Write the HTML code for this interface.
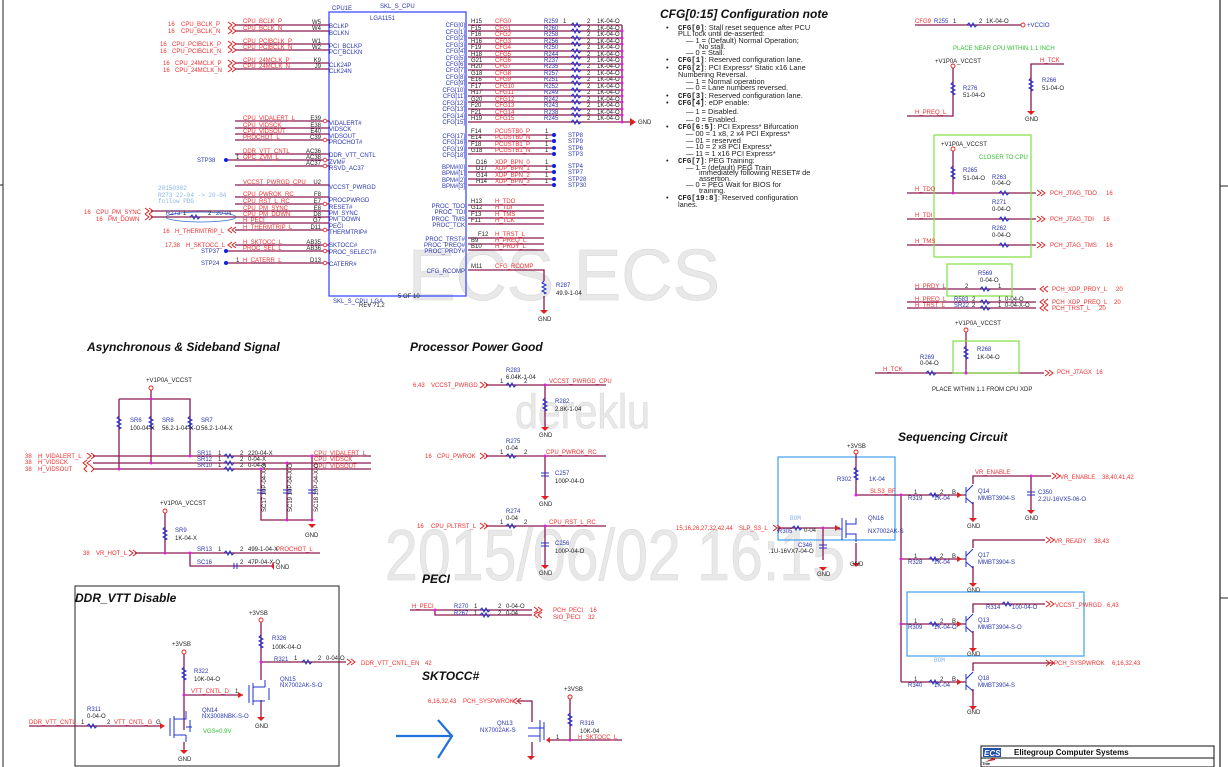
<!DOCTYPE html>
<html><head><meta charset="utf-8"><style>
html,body{margin:0;padding:0;background:#fff;}
svg{display:block;font-family:"Liberation Sans",sans-serif;}
.r{fill:#f03030;font-size:6px}
.b{fill:#2a36b0;font-size:6px}
.k{fill:#222;font-size:6px}
.g{fill:#30c030;font-size:6px}
.lb{fill:#8ab4e8;font-size:6px;font-family:"Liberation Mono",monospace}
.t{font-size:12px;font-weight:bold;font-style:italic;fill:#111}
.n{font-size:7.4px;fill:#222}
.nb{font-size:7.4px;fill:#222;font-weight:bold;font-family:"Liberation Mono",monospace}
.w{stroke:#8a1a50;stroke-width:1.3;fill:none}
.wp{stroke:#b04080;stroke-width:1;fill:none}
.z{stroke:#2030d0;stroke-width:1;fill:none}
.rd{stroke:#e02020;stroke-width:1;fill:none}
.wm{fill:#e8e8e8;stroke:#d8d8d8;stroke-width:0.6;font-family:"Liberation Sans",sans-serif}
</style></head><body>
<svg width="1228" height="767" viewBox="0 0 1228 767" xmlns="http://www.w3.org/2000/svg">
<!-- watermarks -->
<text class="wm" x="408" y="300" font-size="72" textLength="312" lengthAdjust="spacingAndGlyphs">ECS ECS</text>
<text class="wm" x="515" y="428" font-size="48" textLength="135" lengthAdjust="spacingAndGlyphs">dereklu</text>
<text class="wm" x="385" y="580" font-size="72" textLength="460" lengthAdjust="spacingAndGlyphs">2015/06/02 16:15</text>

<!-- frame -->
<line x1="3" y1="0" x2="3" y2="767" stroke="#222" stroke-width="1"/>
<line x1="0" y1="185" x2="3" y2="185" stroke="#222"/>
<line x1="1220" y1="0" x2="1220" y2="767" stroke="#222" stroke-width="1.2"/>
<line x1="1220" y1="186" x2="1228" y2="186" stroke="#222"/>
<line x1="1220" y1="598" x2="1228" y2="598" stroke="#222"/>

<!-- CPU box -->
<rect x="329" y="12" width="137" height="284" fill="none" stroke="#3040ff" stroke-width="1.2"/>
<text class="b" x="332" y="10">CPU1E</text>
<text class="b" x="380" y="8" font-size="5">SKL_S_CPU</text>
<text class="b" x="370" y="20" font-size="5">LGA1151</text>
<text class="k" x="398" y="298">5 OF 10</text>
<text class="b" x="333" y="303">SKL_S_CPU_LGA</text>
<text class="k" x="359" y="307">REV ?1.2</text>

<!-- left pins -->
<g class="w">
<path d="M235 25H329M235 31H329M235 44H329M235 50H329M235 63H329M235 69H329"/>
<path d="M235 121H329M235 128H329M235 134H329M235 140H329M235 154H329M226 160H329M235 166H329"/>
<path d="M235 185H329M235 197H329M235 204H329M151 211H329M151 217H329M235 223H329M235 230H329M235 245H329M226 251H329M226 263H329"/>
</g>
<g class="rd">
<path d="M228 22l4 3-4 3M232 22l4 3-4 3M228 28l4 3-4 3M232 28l4 3-4 3"/>
<path d="M228 41l4 3-4 3M232 41l4 3-4 3M228 47l4 3-4 3M232 47l4 3-4 3"/>
<path d="M228 60l4 3-4 3M232 60l4 3-4 3M228 66l4 3-4 3M232 66l4 3-4 3"/>
<path d="M145 208l4 3-4 3M149 208l4 3-4 3M145 214l4 3-4 3M149 214l4 3-4 3"/>
<path d="M236 227l-4 3 4 3M232 227l-4 3 4 3M236 242l-4 3 4 3M232 242l-4 3 4 3"/>
</g>
<g fill="#fff" stroke="#e02020" stroke-width="0.8">
<circle cx="325" cy="121" r="1.8"/><circle cx="325" cy="140" r="1.8"/><circle cx="325" cy="160" r="1.8"/><circle cx="325" cy="166" r="1.8"/><circle cx="325" cy="204" r="1.8"/><circle cx="325" cy="230" r="1.8"/><circle cx="325" cy="245" r="1.8"/><circle cx="325" cy="251" r="1.8"/><circle cx="325" cy="263" r="1.8"/>
</g>
<g fill="#1020e0"><circle cx="226" cy="160" r="2"/><circle cx="226" cy="251" r="2"/><circle cx="226" cy="263" r="2"/></g>
<g class="r">
<text x="168" y="26">16</text><text x="181" y="26">CPU_BCLK_P</text>
<text x="168" y="33">16</text><text x="181" y="33">CPU_BCLK_N</text>
<text x="160" y="46">16</text><text x="172" y="46">CPU_PCIBCLK_P</text>
<text x="160" y="53">16</text><text x="172" y="53">CPU_PCIBCLK_N</text>
<text x="163" y="65">16</text><text x="175" y="65">CPU_24MCLK_P</text>
<text x="163" y="72">16</text><text x="175" y="72">CPU_24MCLK_N</text>
<text x="243" y="23">CPU_BCLK_P</text><text x="243" y="30">CPU_BCLK_N</text>
<text x="243" y="43">CPU_PCIBCLK_P</text><text x="243" y="49">CPU_PCIBCLK_N</text>
<text x="243" y="62">CPU_24MCLK_P</text><text x="243" y="68">CPU_24MCLK_N</text>
<text x="243" y="120">CPU_VIDALERT_L</text><text x="243" y="127">CPU_VIDSCK</text>
<text x="243" y="133">CPU_VIDSOUT</text><text x="243" y="139">PROCHOT_L</text>
<text x="243" y="153">DDR_VTT_CNTL</text><text x="243" y="159">OPC_ZVM_L</text>
<text x="243" y="184">VCCST_PWRGD_CPU</text><text x="243" y="196">CPU_PWROK_RC</text>
<text x="243" y="203">CPU_RST_L_RC</text><text x="243" y="210">CPU_PM_SYNC</text>
<text x="243" y="216">CPU_PM_DOWN</text><text x="243" y="222">H_PECI</text>
<text x="243" y="229">H_THERMTRIP_L</text><text x="243" y="244">H_SKTOCC_L</text>
<text x="243" y="250">PROC_SEL_L</text><text x="243" y="262">H_CATERR_L</text>
<text x="84" y="214">16</text><text x="96" y="214">CPU_PM_SYNC</text>
<text x="96" y="221">16</text><text x="108" y="221">PM_DOWN</text>
<text x="163" y="233">16</text><text x="175" y="233">H_THERMTRIP_L</text>
<text x="165" y="247">17,38</text><text x="186" y="247">H_SKTOCC_L</text>
</g>
<g class="k" text-anchor="end">
<text x="321" y="24">W5</text><text x="321" y="30">W4</text><text x="321" y="43">W1</text><text x="321" y="49">W2</text><text x="321" y="62">K9</text><text x="321" y="68">J9</text>
<text x="321" y="120">E39</text><text x="321" y="127">E38</text><text x="321" y="133">E40</text><text x="321" y="139">C39</text>
<text x="321" y="153">AC36</text><text x="321" y="159">AC38</text><text x="321" y="165">AC37</text>
<text x="321" y="184">U2</text><text x="321" y="196">F8</text><text x="321" y="203">E7</text><text x="321" y="210">E8</text><text x="321" y="216">D8</text><text x="321" y="222">G7</text><text x="321" y="229">D11</text>
<text x="321" y="244">AB35</text><text x="321" y="250">AB36</text><text x="321" y="262">D13</text>
</g>
<g class="b">
<text x="329" y="28">BCLKP</text><text x="329" y="35">BCLKN</text><text x="329" y="48">PCI_BCLKP</text><text x="329" y="54">PCI_BCLKN</text>
<text x="329" y="67">CLK24P</text><text x="329" y="73">CLK24N</text>
<text x="329" y="125">VIDALERT#</text><text x="329" y="131">VIDSCK</text><text x="329" y="138">VIDSOUT</text><text x="329" y="144">PROCHOT#</text>
<text x="329" y="157">DDR_VTT_CNTL</text><text x="329" y="164">ZVM#</text><text x="329" y="170">RSVD_AC37</text>
<text x="329" y="189">VCCST_PWRGD</text><text x="329" y="202">PROCPWRGD</text><text x="329" y="209">RESET#</text><text x="329" y="215">PM_SYNC</text>
<text x="329" y="221">PM_DOWN</text><text x="329" y="228">PECI</text><text x="329" y="234">THERMTRIP#</text>
<text x="329" y="247">SKTOCC#</text><text x="329" y="254">PROC_SELECT#</text><text x="329" y="266">CATERR#</text>
<text x="197" y="162">STP38</text><text x="201" y="253">STP37</text><text x="201" y="265">STP24</text>
</g>
<text class="k" x="236" y="159">1</text><text class="k" x="236" y="262">1</text>
<g class="lb"><text x="158" y="190">20150302</text><text x="158" y="197">R273 22-04 -&gt; 20-04</text><text x="158" y="203">follow PDG</text></g>
<ellipse cx="201" cy="217" rx="35" ry="5" fill="none" stroke="#3070d0" stroke-width="0.8"/>
<text class="b" x="166" y="215">R273</text><text class="k" x="183" y="215">1</text><text class="k" x="208" y="215">2</text><text class="b" x="216" y="215">20-04</text>
<path class="z" d="M190 217l2-2 2 4 2-4 2 4 2-2"/>

<!-- right CFG -->
<g class="w">
<path d="M468 25H622M468 31H622M468 38H622M468 44H622M468 51H622M468 57H622M468 64H622M468 70H622M468 77H622M468 83H622M468 90H622M468 96H622M468 102H622M468 109H622M468 115H622M468 122H622"/>
<path d="M622 25V122H630"/>
<path d="M468 135H554M468 141H554M468 148H554M468 154H554M468 166H554M468 172H554M468 179H554M468 185H554"/>
<path d="M468 205H544M468 211H544M468 218H544M468 224H544M468 238H544M468 244H544M468 250H544"/>
<path d="M468 270H544V281M544 296V310"/>
</g>
<g class="z">
<path d="M571 25l2-2 2 4 2-4 2 4 2-2M571 31l2-2 2 4 2-4 2 4 2-2M571 38l2-2 2 4 2-4 2 4 2-2M571 44l2-2 2 4 2-4 2 4 2-2M571 51l2-2 2 4 2-4 2 4 2-2M571 57l2-2 2 4 2-4 2 4 2-2M571 64l2-2 2 4 2-4 2 4 2-2M571 70l2-2 2 4 2-4 2 4 2-2M571 77l2-2 2 4 2-4 2 4 2-2M571 83l2-2 2 4 2-4 2 4 2-2M571 90l2-2 2 4 2-4 2 4 2-2M571 96l2-2 2 4 2-4 2 4 2-2M571 102l2-2 2 4 2-4 2 4 2-2M571 109l2-2 2 4 2-4 2 4 2-2M571 115l2-2 2 4 2-4 2 4 2-2M571 122l2-2 2 4 2-4 2 4 2-2"/>
<path d="M544 281l-2 2 4 2-4 2 4 2-4 2 4 2-2 1"/>
</g>
<g fill="#e020e0"><circle cx="622" cy="31" r="1.5"/><circle cx="622" cy="38" r="1.5"/><circle cx="622" cy="44" r="1.5"/><circle cx="622" cy="51" r="1.5"/><circle cx="622" cy="57" r="1.5"/><circle cx="622" cy="64" r="1.5"/><circle cx="622" cy="70" r="1.5"/><circle cx="622" cy="77" r="1.5"/><circle cx="622" cy="83" r="1.5"/><circle cx="622" cy="90" r="1.5"/><circle cx="622" cy="96" r="1.5"/><circle cx="622" cy="102" r="1.5"/><circle cx="622" cy="109" r="1.5"/><circle cx="622" cy="115" r="1.5"/><circle cx="622" cy="122" r="1.5"/></g>
<g fill="#1020e0"><circle cx="554" cy="135" r="2"/><circle cx="554" cy="141" r="2"/><circle cx="554" cy="148" r="2"/><circle cx="554" cy="154" r="2"/><circle cx="554" cy="166" r="2"/><circle cx="554" cy="172" r="2"/><circle cx="554" cy="179" r="2"/><circle cx="554" cy="185" r="2"/></g>
<path d="M630 118v8l6-4z M540 310h8l-4 4z" fill="#e02020"/>
<text class="k" x="638" y="124">GND</text><text class="k" x="538" y="321">GND</text>
<text class="b" x="556" y="287">R287</text><text class="k" x="556" y="295">49.9-1-04</text>
<g class="b" text-anchor="end">
<text x="465" y="27">CFG[0]</text><text x="465" y="34">CFG[1]</text><text x="465" y="40">CFG[2]</text><text x="465" y="47">CFG[3]</text><text x="465" y="53">CFG[4]</text><text x="465" y="60">CFG[5]</text><text x="465" y="66">CFG[6]</text><text x="465" y="72">CFG[7]</text><text x="465" y="79">CFG[8]</text><text x="465" y="85">CFG[9]</text><text x="465" y="92">CFG[10]</text><text x="465" y="98">CFG[11]</text><text x="465" y="105">CFG[12]</text><text x="465" y="111">CFG[13]</text><text x="465" y="118">CFG[14]</text><text x="465" y="124">CFG[15]</text>
<text x="465" y="138">CFG[17]</text><text x="465" y="144">CFG[16]</text><text x="465" y="151">CFG[19]</text><text x="465" y="157">CFG[18]</text>
<text x="465" y="169">BPM#[0]</text><text x="465" y="175">BPM#[1]</text><text x="465" y="182">BPM#[2]</text><text x="465" y="188">BPM#[3]</text>
<text x="465" y="208">PROC_TDO</text><text x="465" y="214">PROC_TDI</text><text x="465" y="221">PROC_TMS</text><text x="465" y="227">PROC_TCK</text>
<text x="465" y="241">PROC_TRST#</text><text x="465" y="247">PROC_PREQ#</text><text x="465" y="253">PROC_PRDY#</text>
<text x="465" y="273">CFG_RCOMP</text>
</g>
<g class="k">
<text x="471" y="23">H15</text><text x="471" y="30">F15</text><text x="471" y="36">F16</text><text x="471" y="43">H16</text><text x="471" y="49">F19</text><text x="471" y="56">H18</text><text x="471" y="62">G21</text><text x="471" y="68">H20</text><text x="471" y="75">G18</text><text x="471" y="81">E16</text><text x="471" y="88">F17</text><text x="471" y="94">H17</text><text x="471" y="101">G20</text><text x="471" y="107">F20</text><text x="471" y="114">F21</text><text x="471" y="120">H19</text>
<text x="471" y="133">F14</text><text x="471" y="139">E14</text><text x="471" y="146">F18</text><text x="471" y="152">G18</text>
<text x="476" y="164">D16</text><text x="476" y="170">D17</text><text x="476" y="177">G14</text><text x="476" y="183">H14</text>
<text x="471" y="203">H13</text><text x="471" y="209">G12</text><text x="471" y="216">F13</text><text x="471" y="222">F11</text>
<text x="478" y="236">F12</text><text x="471" y="242">B9</text><text x="471" y="248">B10</text><text x="471" y="268">M11</text>
</g>
<g class="r">
<text x="495" y="23">CFG0</text><text x="495" y="30">CFG1</text><text x="495" y="36">CFG2</text><text x="495" y="43">CFG3</text><text x="495" y="49">CFG4</text><text x="495" y="56">CFG5</text><text x="495" y="62">CFG6</text><text x="495" y="68">CFG7</text><text x="495" y="75">CFG8</text><text x="495" y="81">CFG9</text><text x="495" y="88">CFG10</text><text x="495" y="94">CFG11</text><text x="495" y="101">CFG12</text><text x="495" y="107">CFG13</text><text x="495" y="114">CFG14</text><text x="495" y="120">CFG15</text>
<text x="495" y="133">PCUSTB0_P</text><text x="495" y="139">PCUSTB0_N</text><text x="495" y="146">PCUSTB1_P</text><text x="495" y="152">PCUSTB1_N</text>
<text x="495" y="164">XDP_BPN_0</text><text x="495" y="170">XDP_BPN_1</text><text x="495" y="177">XDP_BPN_2</text><text x="495" y="183">XDP_BPN_3</text>
<text x="495" y="203">H_TDO</text><text x="495" y="209">H_TDI</text><text x="495" y="216">H_TMS</text><text x="495" y="222">H_TCK</text>
<text x="495" y="236">H_TRST_L</text><text x="495" y="242">H_PREQ_L</text><text x="495" y="248">H_PRDY_L</text><text x="495" y="268">CFG_RCOMP</text>
</g>
<g class="b">
<text x="544" y="23">R259</text><text x="544" y="30">R260</text><text x="544" y="36">R258</text><text x="544" y="43">R256</text><text x="544" y="49">R250</text><text x="544" y="56">R244</text><text x="544" y="62">R237</text><text x="544" y="68">R235</text><text x="544" y="75">R257</text><text x="544" y="81">R251</text><text x="544" y="88">R252</text><text x="544" y="94">R249</text><text x="544" y="101">R242</text><text x="544" y="107">R243</text><text x="544" y="114">R238</text><text x="544" y="120">R245</text>
<text x="568" y="137">STP8</text><text x="568" y="143">STP9</text><text x="568" y="150">STP6</text><text x="568" y="156">STP3</text>
<text x="568" y="168">STP4</text><text x="568" y="174">STP7</text><text x="568" y="181">STP28</text><text x="568" y="187">STP30</text>
</g>
<g class="k">
<text x="563" y="23">1</text><text x="587" y="23">2</text><text x="597" y="23">1K-04-O</text>
<text x="587" y="30">2</text><text x="597" y="30">1K-04-O</text><text x="587" y="36">2</text><text x="597" y="36">1K-04-O</text>
<text x="587" y="43">2</text><text x="597" y="43">1K-04-O</text><text x="587" y="49">2</text><text x="597" y="49">1K-04-O</text>
<text x="587" y="56">2</text><text x="597" y="56">1K-04-O</text><text x="587" y="62">2</text><text x="597" y="62">1K-04-O</text>
<text x="587" y="68">2</text><text x="597" y="68">1K-04-O</text><text x="587" y="75">2</text><text x="597" y="75">1K-04-O</text>
<text x="587" y="81">2</text><text x="597" y="81">1K-04-O</text><text x="587" y="88">2</text><text x="597" y="88">1K-04-O</text>
<text x="587" y="94">2</text><text x="597" y="94">1K-04-O</text><text x="587" y="101">2</text><text x="597" y="101">1K-04-O</text>
<text x="587" y="107">2</text><text x="597" y="107">1K-04-O</text><text x="587" y="114">2</text><text x="597" y="114">1K-04-O</text>
<text x="587" y="120">2</text><text x="597" y="120">1K-04-O</text>
<text x="545" y="133">1</text><text x="545" y="139">1</text><text x="545" y="146">1</text><text x="545" y="152">1</text>
<text x="545" y="164">1</text><text x="545" y="170">1</text><text x="545" y="177">1</text><text x="545" y="183">1</text>
</g>

<!-- Config note -->
<text class="t" x="660" y="18">CFG[0:15]  Configuration note</text>
<g class="n">
<text x="666" y="30">•</text><text x="678" y="30"><tspan class="nb">CFG[0]</tspan>: Stall reset sequence after PCU</text>
<text x="678" y="36">PLL lock until de-asserted:</text>
<text x="686" y="43">—  1 = (Default) Normal Operation;</text>
<text x="699" y="49">No stall.</text>
<text x="686" y="55">—  0 = Stall.</text>
<text x="666" y="62">•</text><text x="678" y="62"><tspan class="nb">CFG[1]</tspan>: Reserved configuration lane.</text>
<text x="666" y="70">•</text><text x="678" y="70"><tspan class="nb">CFG[2]</tspan>: PCI Express* Static x16 Lane</text>
<text x="678" y="77">Numbering Reversal.</text>
<text x="686" y="84">—  1 = Normal operation</text>
<text x="686" y="90">—  0 = Lane numbers reversed.</text>
<text x="666" y="98">•</text><text x="678" y="98"><tspan class="nb">CFG[3]</tspan>: Reserved configuration lane.</text>
<text x="666" y="105">•</text><text x="678" y="105"><tspan class="nb">CFG[4]</tspan>: eDP enable:</text>
<text x="686" y="114">—  1 = Disabled.</text>
<text x="686" y="122">—  0 = Enabled.</text>
<text x="666" y="129">•</text><text x="678" y="129"><tspan class="nb">CFG[6:5]</tspan>: PCI Express* Bifurcation</text>
<text x="686" y="136">—  00 = 1 x8, 2 x4 PCI Express*</text>
<text x="686" y="143">—  01 = reserved</text>
<text x="686" y="149">—  10 = 2 x8 PCI Express*</text>
<text x="686" y="156">—  11 = 1 x16 PCI Express*</text>
<text x="666" y="163">•</text><text x="678" y="163"><tspan class="nb">CFG[7]</tspan>: PEG Training:</text>
<text x="686" y="170">—  1 = (default) PEG Train</text>
<text x="699" y="175">immediately following RESET# de</text>
<text x="699" y="181">assertion.</text>
<text x="686" y="187">—  0 = PEG Wait for BIOS for</text>
<text x="699" y="193">training.</text>
<text x="666" y="200">•</text><text x="678" y="200"><tspan class="nb">CFG[19:8]</tspan>: Reserved configuration</text>
<text x="678" y="207">lanes.</text>
</g>

<!-- right top JTAG -->
<g class="w">
<path d="M915 25H1021"/>
<path d="M953 67V116H907"/>
<path d="M1064 64H1031V111"/>
<path d="M953 150V193M907 193H1036M907 219H1036M907 245H1036"/>
<path d="M915 289H1036M907 302H1036M907 308H1036"/>
<path d="M966 331V373M875 373H1044"/>
</g>
<rect x="934" y="135" width="97" height="122" fill="none" stroke="#80e040" stroke-width="1.2"/>
<rect x="947" y="264" width="65" height="32" fill="none" stroke="#80e040" stroke-width="1.2"/>
<rect x="953" y="341" width="66" height="32" fill="none" stroke="#80e040" stroke-width="1.2"/>
<g class="z">
<path d="M967 25l2-2 2 4 2-4 2 4 2-2"/>
<path d="M953 82l-2 2 4 2-4 2 4 2-4 2 4 2-2 1M1031 78l-2 2 4 2-4 2 4 2-4 2 4 2-2 1M953 166l-2 2 4 2-4 2 4 2-4 2 4 2-2 1M966 346l-2 2 4 2-4 2 4 2-4 2 4 2-2 1"/>
<path d="M999 193l2-2 2 4 2-4 2 4 2-2M999 219l2-2 2 4 2-4 2 4 2-2M999 245l2-2 2 4 2-4 2 4 2-2M980 289l2-2 2 4 2-4 2 4 2-2M980 302l2-2 2 4 2-4 2 4 2-2M980 308l2-2 2 4 2-4 2 4 2-2M926 373l2-2 2 4 2-4 2 4 2-2"/>
</g>
<g fill="#fff" stroke="#e02020" stroke-width="0.9"><circle cx="1023" cy="25" r="2"/><circle cx="953" cy="66" r="2"/><circle cx="953" cy="149" r="2"/><circle cx="966" cy="330" r="2"/></g>
<path d="M1027 111h8l-4 4z" fill="#e02020"/>
<g class="rd">
<path d="M1037 190l4 3-4 3M1041 190l4 3-4 3M1037 216l4 3-4 3M1041 216l4 3-4 3M1037 242l4 3-4 3M1041 242l4 3-4 3M1045 370l4 3-4 3M1049 370l4 3-4 3"/>
<path d="M1044 286l-4 3 4 3M1048 286l-4 3 4 3M1044 299l-4 3 4 3M1048 299l-4 3 4 3M1044 305l-4 3 4 3M1048 305l-4 3 4 3"/>
</g>
<g fill="#e020e0"><circle cx="953" cy="193" r="1.5"/><circle cx="966" cy="373" r="1.5"/></g>
<g class="r">
<text x="915" y="23">CFG9</text><text x="1027" y="27" class="b">+VCCIO</text>
<text x="915" y="114">H_PREQ_L</text><text x="1040" y="62">H_TCK</text>
<text x="915" y="191">H_TDO</text><text x="915" y="217">H_TDI</text><text x="915" y="243">H_TMS</text>
<text x="1050" y="195">PCH_JTAG_TDO</text><text x="1106" y="195">16</text>
<text x="1050" y="221">PCH_JTAG_TDI</text><text x="1103" y="221">16</text>
<text x="1050" y="247">PCH_JTAG_TMS</text><text x="1106" y="247">16</text>
<text x="915" y="288">H_PRDY_L</text><text x="915" y="301">H_PREQ_L</text><text x="915" y="307">H_TRST_L</text>
<text x="1052" y="291">PCH_XDP_PRDY_L</text><text x="1116" y="291">20</text>
<text x="1052" y="304">PCH_XDP_PREQ_L</text><text x="1114" y="304">20</text>
<text x="1052" y="310">PCH_TRST_L</text><text x="1099" y="310">20</text>
<text x="883" y="371">H_TCK</text><text x="1057" y="374">PCH_JTAGX</text><text x="1096" y="374">16</text>
</g>
<g class="b">
<text x="934" y="23">R255</text><text x="963" y="90">R276</text><text x="1042" y="82">R266</text>
<text x="963" y="172">R265</text><text x="992" y="179">R263</text><text x="992" y="204">R271</text><text x="992" y="230">R262</text>
<text x="978" y="275">R569</text><text x="954" y="301">R583</text><text x="954" y="307">SR22</text>
<text x="977" y="351">R268</text><text x="920" y="359">R269</text>
</g>
<g class="k">
<text x="953" y="23">1</text><text x="979" y="23">2</text><text x="986" y="23">1K-04-O</text>
<text x="935" y="63">+V1P0A_VCCST</text><text x="963" y="97">51-04-O</text><text x="1042" y="90">51-04-O</text><text x="1025" y="121">GND</text>
<text x="941" y="146">+V1P0A_VCCST</text><text x="963" y="180">51-04-O</text><text x="992" y="185">0-04-O</text><text x="992" y="211">0-04-O</text><text x="992" y="237">0-04-O</text>
<text x="980" y="282">0-04-O</text><text x="965" y="288">2</text><text x="998" y="288">1</text>
<text x="972" y="301">2</text><text x="998" y="301">1</text><text x="1005" y="301">0-04-O</text>
<text x="972" y="307">2</text><text x="998" y="307">1</text><text x="1005" y="307">0-04-X-O</text>
<text x="955" y="325">+V1P0A_VCCST</text><text x="977" y="359">1K-04-O</text><text x="920" y="365">0-04-O</text>
<text x="932" y="391">PLACE  WITHIN 1.1 FROM CPU XDP</text>
</g>
<text class="g" x="953" y="50">PLACE NEAR CPU WITHIN 1.1 INCH</text>
<text class="g" x="979" y="159">CLOSER TO CPU</text>

<!-- Async -->
<text class="t" x="87" y="351">Asynchronous &amp; Sideband Signal</text>
<g class="w">
<path d="M151 390V399M119 399H190V456M119 399V469M151 399V463"/>
<path d="M93 456H371M93 463H371M93 469H371"/>
<path d="M261 469V520H312V456M287 463V520"/>
<path d="M165 513V553M135 553H320M190 553V566H274"/>
</g>
<g class="z">
<path d="M119 416l-2 2 4 2-4 2 4 2-4 2 4 2-2 1M151 416l-2 2 4 2-4 2 4 2-4 2 4 2-2 1M190 416l-2 2 4 2-4 2 4 2-4 2 4 2-2 1M165 527l-2 2 4 2-4 2 4 2-4 2 4 2-2 1"/>
<path d="M224 456l2-2 2 4 2-4 2 4 2-2M224 463l2-2 2 4 2-4 2 4 2-2M224 469l2-2 2 4 2-4 2 4 2-2M224 553l2-2 2 4 2-4 2 4 2-2"/>
<path d="M257 490h8M257 493h8M283 490h8M283 493h8M308 490h8M308 493h8M234 563v6M237 563v6"/>
</g>
<g fill="#fff" stroke="#e02020" stroke-width="0.9"><circle cx="151" cy="388" r="2"/><circle cx="165" cy="511" r="2"/></g>
<g fill="#e020e0"><circle cx="151" cy="399" r="1.5"/><circle cx="190" cy="456" r="1.5"/><circle cx="151" cy="463" r="1.5"/><circle cx="119" cy="469" r="1.5"/><circle cx="312" cy="456" r="1.5"/><circle cx="287" cy="463" r="1.5"/><circle cx="261" cy="469" r="1.5"/><circle cx="287" cy="520" r="1.5"/><circle cx="312" cy="520" r="1.5"/><circle cx="165" cy="553" r="1.5"/><circle cx="190" cy="553" r="1.5"/></g>
<path d="M308 524h8l-4 4zM274 562v8l-3-4z" fill="#e02020"/>
<g class="rd"><path d="M87 453l4 3-4 3M91 453l4 3-4 3M91 460l-4 3 4 3M87 460l-4 3 4 3M87 466l-3 3 3 3M91 466l3 3-3 3M129 550l4 3-4 3M133 550l4 3-4 3"/></g>
<g class="r">
<text x="25" y="458">38</text><text x="38" y="458">H_VIDALERT_L</text>
<text x="25" y="464">38</text><text x="38" y="464">H_VIDSCK</text>
<text x="25" y="471">38</text><text x="38" y="471">H_VIDSOUT</text>
<text x="314" y="455">CPU_VIDALERT_L</text><text x="314" y="461">CPU_VIDSCK</text><text x="314" y="468">CPU_VIDSOUT</text>
<text x="83" y="555">38</text><text x="96" y="555">VR_HOT_L</text><text x="276" y="551">PROCHOT_L</text>
</g>
<g class="b"><text x="130" y="422">SR6</text><text x="162" y="422">SR8</text><text x="201" y="422">SR7</text>
<text x="197" y="455">SR11</text><text x="197" y="461">SR12</text><text x="197" y="467">SR10</text><text x="175" y="532">SR9</text>
<text x="197" y="551">SR13</text><text x="197" y="564">SC16</text></g>
<g class="k"><text x="146" y="382">+V1P0A_VCCST</text><text x="130" y="430">100-04-X</text><text x="162" y="430">56.2-1-04-X-O</text><text x="201" y="430">56.2-1-04-X</text>
<text x="218" y="455">1</text><text x="240" y="455">2</text><text x="248" y="455">220-04-X</text>
<text x="218" y="461">1</text><text x="240" y="461">2</text><text x="248" y="461">0-04-X</text>
<text x="218" y="467">1</text><text x="240" y="467">2</text><text x="248" y="467">0-04-X</text>
<text x="160" y="505">+V1P0A_VCCST</text><text x="175" y="540">1K-04-X</text>
<text x="218" y="551">1</text><text x="240" y="551">2</text><text x="248" y="551">499-1-04-X</text>
<text x="240" y="564">2</text><text x="248" y="564">47P-04-X-O</text><text x="276" y="569">GND</text><text x="305" y="537">GND</text>
<text x="266" y="512" transform="rotate(-90 266 512)">SC17 10P-04-X-O</text>
<text x="292" y="512" transform="rotate(-90 292 512)">SC19 10P-04-X-O</text>
<text x="318" y="512" transform="rotate(-90 318 512)">SC18 10P-04-X-O</text>
</g>

<!-- DDR_VTT Disable -->
<rect x="75" y="586" width="264" height="180" fill="none" stroke="#222" stroke-width="1"/>
<text class="t" x="75" y="602">DDR_VTT Disable</text>
<g class="w">
<path d="M29 726H163M184 654V730M184 695H243M261 622V680M261 662H346M261 700V718M184 742V750"/>
</g>
<g class="z">
<path d="M87 726l2-2 2 4 2-4 2 4 2-2M184 667l-2 2 4 2-4 2 4 2-4 2 4 2-2 1M261 635l-2 2 4 2-4 2 4 2-4 2 4 2-2 1M302 662l2-2 2 4 2-4 2 4 2-2"/>
<path d="M170 718v18M174 716v22M174 719h12v-8h0M174 735h12M186 711v8M186 735v7M190 720v12M186 727h6M249 685v18M253 683v22M253 687h12M253 701h12M265 680v7M265 701v-0M269 688v12"/>
</g>
<path d="M160 723v6l5-3zM238 692v6l5-3z" fill="#e02020"/>
<path d="M180 750h8l-4 4zM257 717h8l-4 4z" fill="#e02020"/>
<g fill="#fff" stroke="#e02020" stroke-width="0.9"><circle cx="184" cy="652" r="2"/><circle cx="261" cy="620" r="2"/></g>
<g fill="#e020e0"><circle cx="184" cy="695" r="1.5"/><circle cx="261" cy="662" r="1.5"/></g>
<path class="rd" d="M347 659l4 3-4 3M351 659l4 3-4 3"/>
<g class="r"><text x="29" y="724">DDR_VTT_CNTL</text><text x="114" y="724">VTT_CNTL_G</text><text x="191" y="693">VTT_CNTL_D</text>
<text x="361" y="665">DDR_VTT_CNTL_EN</text><text x="425" y="665">42</text></g>
<g class="b"><text x="87" y="711">R311</text><text x="194" y="673">R322</text><text x="202" y="712">QN14</text><text x="202" y="718">NX3008NBK-S-O</text>
<text x="272" y="640">R326</text><text x="280" y="681">QN15</text><text x="280" y="687">NX7002AK-S-O</text><text x="274" y="661">R321</text></g>
<g class="k"><text x="87" y="718">0-04-O</text><text x="81" y="724">1</text><text x="107" y="724">2</text><text x="156" y="724">G</text>
<text x="172" y="646">+3VSB</text><text x="194" y="681">10K-04-O</text><text x="249" y="615">+3VSB</text><text x="272" y="649">100K-04-O</text>
<text x="294" y="660">1</text><text x="318" y="660">2</text><text x="326" y="660">0-04-O</text><text x="235" y="693">1</text>
<text x="178" y="761">GND</text><text x="255" y="728">GND</text></g>
<text class="g" x="203" y="733">VGS=0.9V</text>

<!-- Processor Power Good -->
<text class="t" x="410" y="351">Processor Power Good</text>
<g class="w">
<path d="M486 385H606M545 385V427M486 456H606M545 456V496M486 526H606M545 526V565"/>
</g>
<g class="z"><path d="M506 385l2-2 2 4 2-4 2 4 2-2M506 456l2-2 2 4 2-4 2 4 2-2M506 526l2-2 2 4 2-4 2 4 2-2M545 398l-2 2 4 2-4 2 4 2-4 2 4 2-2 1M541 473h8M541 476h8M541 543h8M541 546h8"/></g>
<g class="rd"><path d="M480 382l4 3-4 3M484 382l4 3-4 3M480 453l4 3-4 3M484 453l4 3-4 3M480 523l4 3-4 3M484 523l4 3-4 3"/></g>
<path d="M541 427h8l-4 4zM541 496h8l-4 4zM541 565h8l-4 4z" fill="#e02020"/>
<g fill="#e020e0"><circle cx="545" cy="385" r="1.5"/><circle cx="545" cy="456" r="1.5"/><circle cx="545" cy="526" r="1.5"/></g>
<g class="r"><text x="413" y="387">6,43</text><text x="431" y="387">VCCST_PWRGD</text><text x="549" y="383">VCCST_PWRGD_CPU</text>
<text x="425" y="458">16</text><text x="437" y="458">CPU_PWROK</text><text x="546" y="454">CPU_PWROK_RC</text>
<text x="417" y="528">16</text><text x="431" y="528">CPU_PLTRST_L</text><text x="549" y="524">CPU_RST_L_RC</text></g>
<g class="b"><text x="506" y="372">R283</text><text x="555" y="403">R282</text><text x="506" y="443">R275</text><text x="555" y="475">C257</text><text x="506" y="513">R274</text><text x="555" y="545">C256</text></g>
<g class="k"><text x="506" y="379">6.04K-1-04</text><text x="555" y="411">2.8K-1-04</text><text x="506" y="450">0-04</text><text x="555" y="483">100P-04-O</text><text x="506" y="520">0-04</text><text x="555" y="553">100P-04-O</text>
<text x="500" y="383">1</text><text x="524" y="383">2</text><text x="500" y="454">1</text><text x="524" y="454">2</text><text x="500" y="524">1</text><text x="524" y="524">2</text>
<text x="539" y="437">GND</text><text x="539" y="506">GND</text><text x="539" y="575">GND</text></g>

<!-- PECI -->
<text class="t" x="422" y="583">PECI</text>
<g class="w"><path d="M410 610H532M435 610V615H532"/></g>
<g class="z"><path d="M480 610l2-2 2 4 2-4 2 4 2-2M480 615l2-2 2 4 2-4 2 4 2-2"/></g>
<g class="rd"><path d="M534 607l4 3-4 3M538 607l4 3-4 3M538 612l-4 3 4 3M542 612l-4 3 4 3"/></g>
<circle cx="435" cy="610" r="1.5" fill="#e020e0"/>
<g class="r"><text x="412" y="608">H_PECI</text><text x="553" y="612">PCH_PECI</text><text x="590" y="612">16</text><text x="553" y="619">SIO_PECI</text><text x="588" y="619">32</text></g>
<g class="b"><text x="454" y="608">R270</text><text x="454" y="615">R267</text></g>
<g class="k"><text x="474" y="608">1</text><text x="498" y="608">2</text><text x="506" y="608">0-04-O</text><text x="474" y="615">1</text><text x="498" y="615">2</text><text x="506" y="615">0-04</text></g>

<!-- SKTOCC -->
<text class="t" x="422" y="680">SKTOCC#</text>
<path d="M396 736H452M438 720L452 736 438 758" fill="none" stroke="#2070e0" stroke-width="2.2"/>
<g class="w"><path d="M518 701H532V722M532 742V756M570 699V740M548 740H622"/></g>
<g class="z"><path d="M570 713l-2 2 4 2-4 2 4 2-4 2 4 2-2 1M544 722v18M540 720v22M528 728h16M528 736h12"/></g>
<g class="rd"><path d="M517 698l-4 3 4 3M521 698l-4 3 4 3"/></g>
<path d="M550 737v6l-4-3zM527 756h8l-4 4z" fill="#e02020"/>
<circle cx="570" cy="697" r="2" fill="#fff" stroke="#e02020"/><circle cx="570" cy="740" r="1.5" fill="#e020e0"/>
<g class="r"><text x="428" y="703">6,16,32,43</text><text x="463" y="703">PCH_SYSPWROK</text><text x="578" y="739">H_SKTOCC_L</text></g>
<g class="b"><text x="497" y="725">QN13</text><text x="480" y="732">NX7002AK-S</text><text x="580" y="725">R316</text></g>
<g class="k"><text x="564" y="691">+3VSB</text><text x="580" y="733">10K-04</text><text x="556" y="739">1</text></g>

<!-- Sequencing -->
<text class="t" x="898" y="441">Sequencing Circuit</text>
<rect x="778" y="457" width="117" height="83" fill="none" stroke="#40a0f0" stroke-width="1.2"/>
<rect x="907" y="592" width="177" height="64" fill="none" stroke="#40a0f0" stroke-width="1.2"/>
<g class="w">
<path d="M856 454V495H901V682"/>
<path d="M778 528H840M823 528V560M856 543V563"/>
<path d="M901 495H966M973 484V476H1051M1031 476V510M973 502V518"/>
<path d="M901 559H966M973 548V540H1045M973 566V583"/>
<path d="M901 624H966M973 613V604H1045M973 631V648"/>
<path d="M901 682H966M973 671V663H1054M973 689V706"/>
</g>
<g class="z">
<path d="M856 467l-2 2 4 2-4 2 4 2-4 2 4 2-2 1M792 528l2-2 2 4 2-4 2 4 2-2"/>
<path d="M929 495l2-2 2 4 2-4 2 4 2-2M929 559l2-2 2 4 2-4 2 4 2-2M929 624l2-2 2 4 2-4 2 4 2-2M929 682l2-2 2 4 2-4 2 4 2-2M1002 604l2-2 2 4 2-4 2 4 2-2"/>
<path d="M819 545h8M819 548h8M1027 492h8M1027 495h8"/>
<path d="M846 520v18M842 518v22M846 524h10v-6M846 534h10v8M842 529h-4"/>
<path d="M966 487v16M966 492l7-7M966 498l7 6M966 551v16M966 556l7-7M966 562l7 6M966 616v16M966 621l7-7M966 627l7 6M966 674v16M966 679l7-7M966 685l7 6"/>
</g>
<path d="M957 492v6l5-3zM957 556v6l5-3zM957 621v6l5-3zM957 679v6l5-3zM835 525v6l5-3z" fill="#e02020"/>
<path d="M819 567h8l-4 4zM852 563h8l-4 4zM969 518h8l-4 4zM1027 510h8l-4 4zM969 583h8l-4 4zM969 648h8l-4 4zM969 706h8l-4 4z" fill="#e02020"/>
<circle cx="856" cy="452" r="2" fill="#fff" stroke="#e02020"/>
<g fill="#e020e0"><circle cx="856" cy="495" r="1.5"/><circle cx="901" cy="495" r="1.5"/><circle cx="823" cy="528" r="1.5"/><circle cx="901" cy="559" r="1.5"/><circle cx="901" cy="624" r="1.5"/><circle cx="1031" cy="476" r="1.5"/></g>
<g class="rd"><path d="M1052 473l4 3-4 3M1056 473l4 3-4 3M1046 537l4 3-4 3M1050 537l4 3-4 3M1046 601l4 3-4 3M1050 601l4 3-4 3M1046 660l4 3-4 3M1050 660l4 3-4 3M773 525l4 3-4 3M777 525l4 3-4 3"/></g>
<g class="r"><text x="676" y="530">15,16,26,27,32,42,44</text><text x="739" y="530">SLP_S3_L</text><text x="870" y="493">SLS3_BF</text>
<text x="975" y="474">VR_ENABLE</text><text x="1060" y="479">VR_ENABLE</text><text x="1102" y="479">38,40,41,42</text>
<text x="1054" y="543">VR_READY</text><text x="1094" y="543">38,43</text>
<text x="1055" y="607">VCCST_PWRGD</text><text x="1107" y="607">6,43</text>
<text x="1054" y="665">PCH_SYSPWROK</text><text x="1112" y="665">6,16,32,43</text></g>
<g class="b"><text x="837" y="481">R302</text><text x="869" y="481">1K-04</text><text x="778" y="533">R305</text><text x="798" y="547">C346</text>
<text x="868" y="520">QN16</text><text x="868" y="533">NX7002AK-S</text>
<text x="908" y="500">R319</text><text x="934" y="500">1K-04</text><text x="978" y="493">Q14</text><text x="978" y="500">MMBT3904-S</text><text x="1038" y="494">C350</text><text x="1038" y="501">2.2U-16VX5-06-O</text>
<text x="908" y="564">R328</text><text x="934" y="564">1K-04</text><text x="978" y="557">Q17</text><text x="978" y="564">MMBT3904-S</text>
<text x="908" y="629">R309</text><text x="934" y="629">1K-04-O</text><text x="978" y="622">Q13</text><text x="978" y="629">MMBT3904-S-O</text><text x="986" y="609">R314</text><text x="1012" y="609">100-04-O</text>
<text x="908" y="687">R340</text><text x="934" y="687">1K-04</text><text x="978" y="680">Q18</text><text x="978" y="687">MMBT3904-S</text></g>
<g class="k"><text x="847" y="448">+3VSB</text><text x="804" y="532">0-04</text><text x="769" y="553">.1U-16VX7-04-O</text><text x="817" y="576">GND</text><text x="850" y="566">GND</text>
<text x="967" y="528">GND</text><text x="1025" y="520">GND</text><text x="967" y="592">GND</text><text x="967" y="656">GND</text><text x="967" y="714">GND</text>
<text x="914" y="494">1</text><text x="940" y="494">2</text><text x="952" y="494">B</text>
<text x="914" y="558">1</text><text x="940" y="558">2</text><text x="952" y="558">B</text>
<text x="914" y="623">1</text><text x="940" y="623">2</text><text x="952" y="623">B</text>
<text x="914" y="681">1</text><text x="940" y="681">2</text><text x="952" y="681">B</text></g>
<text class="lb" x="934" y="662" font-size="4">BOM</text><text class="lb" x="790" y="520" font-size="4">BOM</text>

<!-- footer -->
<rect x="981" y="746" width="233" height="21" fill="#fff" stroke="#111" stroke-width="1"/>
<line x1="981" y1="758" x2="1214" y2="758" stroke="#111"/>
<rect x="983" y="748" width="18" height="9" fill="#2050b0"/>
<text x="984" y="756" font-size="8" font-weight="bold" font-style="italic" fill="#fff">ECS</text>
<path d="M985 762l10-5v3z" fill="#d02020"/>
<text x="1014" y="755" font-size="8" font-weight="bold" fill="#111">Elitegroup Computer Systems</text>
<text x="982" y="765" font-size="4" font-weight="bold" fill="#111">Title</text>
</svg>
</body></html>
